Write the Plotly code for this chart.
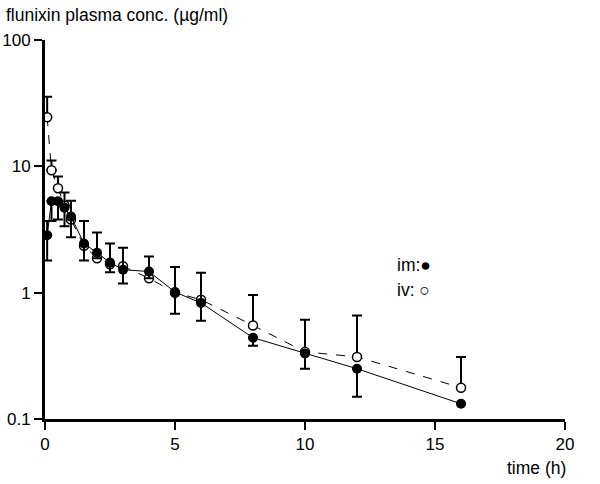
import plotly.graph_objects as go

# time points (h)
time_h = [0.083, 0.25, 0.5, 0.75, 1, 1.5, 2, 2.5, 3, 4, 5, 6, 8, 10, 12, 16]

# flunixin plasma concentration (µg/ml)
im_conc = [2.85, 5.3, 5.3, 4.7, 4.0, 2.45, 2.07, 1.73, 1.52, 1.47, 1.01, 0.83, 0.44, 0.33, 0.25, 0.132]
iv_conc = [24.5, 9.3, 6.7, 4.9, 3.8, 2.35, 1.87, 1.68, 1.62, 1.30, 1.00, 0.88, 0.55, 0.34, 0.31, 0.177]

# error bar limits (upper / lower cap values); None = no bar on that side
im_upper = [3.7, None, None, 6.2, 5.35, 3.7, 3.0, 2.45, 2.27, 1.93, 1.6, 1.44, None, None, None, None]
im_lower = [1.8, 3.7, 3.8, 3.35, 2.75, 1.8, 1.87, 1.45, 1.18, 1.3, 0.68, 0.6, 0.38, 0.25, 0.15, None]
iv_upper = [35.5, 11.1, 8.3, None, None, None, None, None, None, None, None, None, 0.96, 0.61, 0.66, 0.31]

x_tickvals = [0, 5, 10, 15, 20]
y_tickvals = [0.1, 1, 10, 100]
y_ticktext = ["0.1", "1", "10", "100"]


def plus(vals, lims):
    return [(l - v) if l is not None else 0 for v, l in zip(vals, lims)]


def minus(vals, lims):
    return [(v - l) if l is not None else 0 for v, l in zip(vals, lims)]


FONT = "Liberation Sans, Arial, sans-serif"
TICK_SIZE = 17
TEXT_SIZE = 17.5

fig = go.Figure()

fig.add_trace(go.Scatter(
    x=time_h, y=iv_conc, mode="lines+markers", name="iv",
    line=dict(color="black", width=1, dash="dash"),
    marker=dict(symbol="circle", size=9, color="white", line=dict(color="black", width=1.5)),
    error_y=dict(type="data", symmetric=False, array=plus(iv_conc, iv_upper),
                 arrayminus=[0] * len(iv_conc), color="black", thickness=2, width=5),
))

fig.add_trace(go.Scatter(
    x=time_h, y=im_conc, mode="lines+markers", name="im",
    line=dict(color="black", width=1),
    marker=dict(symbol="circle", size=10, color="black"),
    error_y=dict(type="data", symmetric=False, array=plus(im_conc, im_upper),
                 arrayminus=minus(im_conc, im_lower), color="black", thickness=2, width=5),
))

fig.update_layout(
    width=600, height=484,
    margin=dict(l=45, r=35, t=40, b=65),
    paper_bgcolor="white", plot_bgcolor="white",
    showlegend=False,
    font=dict(family=FONT, size=TICK_SIZE, color="black"),
    xaxis=dict(range=[0, 20], tickvals=x_tickvals, showgrid=False, zeroline=False,
               showline=True, linecolor="black", linewidth=3, automargin=False,
               ticks="outside", ticklen=8, tickwidth=2, tickcolor="black",
               tickfont=dict(family=FONT, size=TICK_SIZE)),
    yaxis=dict(type="log", range=[-1, 2], tickvals=y_tickvals, ticktext=y_ticktext,
               showgrid=False, zeroline=False, showline=True, linecolor="black", linewidth=3,
               automargin=False,
               ticks="outside", ticklen=8, tickwidth=2, tickcolor="black",
               tickfont=dict(family=FONT, size=TICK_SIZE)),
    annotations=[
        dict(text="flunixin plasma conc. (\u00b5g/ml)", xref="paper", yref="paper",
             x=-0.079, y=1.066, xanchor="left", yanchor="middle", showarrow=False,
             font=dict(family=FONT, size=TEXT_SIZE)),
        dict(text="time (h)", xref="paper", yref="paper",
             x=1.005, y=-0.129, xanchor="right", yanchor="middle", showarrow=False,
             font=dict(family=FONT, size=TEXT_SIZE)),
        dict(text="im:\u25cf", xref="paper", yref="paper",
             x=(395 - 45) / 520, y=(419 - 265) / 379, xanchor="left", yanchor="middle",
             showarrow=False, font=dict(family=FONT, size=TEXT_SIZE)),
        dict(text="iv: \u25cb", xref="paper", yref="paper",
             x=(395 - 45) / 520, y=(419 - 290) / 379, xanchor="left", yanchor="middle",
             showarrow=False, font=dict(family=FONT, size=TEXT_SIZE)),
    ],
)

# remove the browser's default 8px body margin so the figure fills the window exactly
fig.write_html("out.html", config={"displayModeBar": False},
               post_script="document.body.style.margin='0';")
